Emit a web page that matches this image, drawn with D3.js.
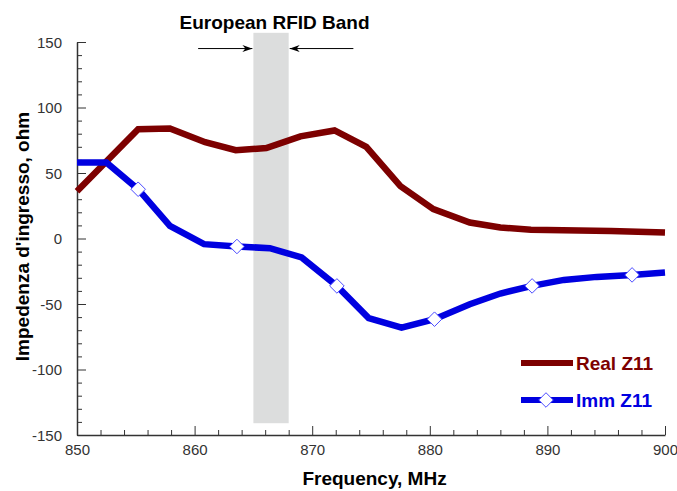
<!DOCTYPE html>
<html lang="en">
<head>
  <meta charset="UTF-8">
  <title>Impedenza d'ingresso</title>
  <script src="https://d3js.org/d3.v7.min.js"></script>
  <style>
    body {
      margin: 0;
      padding: 0;
      background: #fff;
      font-family: "Liberation Sans", Arial, sans-serif;
    }
    .tick text {
      font-size: 15px;
      fill: #333;
    }
    .bold {
      font-weight: bold;
      font-size: 19px;
    }
  </style>
</head>
<body>
  <svg id="chart"></svg>
  <script>
    // Real Z11 (MHz, ohm)
    const realFreq = [850, 855.2, 857.9, 860.9, 863.5, 866.1, 869, 871.9, 874.6, 877.5, 880.3, 883.4, 886, 888.6, 895.4, 900];
    const realVal = [36, 83.4, 84, 73.5, 67.4, 69, 78, 82.5, 70, 40, 22.4, 12.2, 8.4, 6.6, 5.8, 4.6];

    // Imm Z11 (MHz, ohm)
    const immFreq = [850, 852.5, 855.2, 857.9, 860.8, 863.6, 866.4, 869.1, 872.1, 874.8, 877.6, 880.4, 883.4, 886, 888.7, 891.4, 894.2, 897.2, 900];
    const immVal = [58, 58, 37.6, 9.6, -4.3, -6.1, -7.4, -14.5, -36.2, -60.8, -68, -61.6, -50.2, -42, -36.2, -31.6, -29.3, -27.8, -26];
    const immMarkers = [855.2, 863.6, 872.1, 880.4, 888.7, 897.2];

    // European RFID band
    const bandFreq = [865, 868];
    const bandVal = [157, -141];

    const xTicks = [850, 860, 870, 880, 890, 900];
    const yTicks = [-150, -100, -50, 0, 50, 100, 150];

    const width = 677;
    const height = 491;
    const margin = { top: 42, right: 12, bottom: 56, left: 77 };

    const svg = d3.select("#chart")
      .attr("width", width)
      .attr("height", height);

    const x = d3.scaleLinear()
      .domain([850, 900])
      .range([margin.left, width - margin.right]);

    const y = d3.scaleLinear()
      .domain([-150, 150])
      .range([height - margin.bottom, margin.top]);

    const red = "#7d0000";
    const blue = "#0000e0";

    // band
    svg.append("rect")
      .attr("x", x(bandFreq[0]))
      .attr("y", y(bandVal[0]))
      .attr("width", x(bandFreq[1]) - x(bandFreq[0]))
      .attr("height", y(bandVal[1]) - y(bandVal[0]))
      .attr("fill", "#dcdddd");

    // arrows pointing at the band
    const defs = svg.append("defs");
    defs.append("marker")
      .attr("id", "arrow")
      .attr("viewBox", "0 0 10 10")
      .attr("refX", 10)
      .attr("refY", 5)
      .attr("markerWidth", 10)
      .attr("markerHeight", 10)
      .attr("markerUnits", "userSpaceOnUse")
      .attr("orient", "auto")
      .append("path")
      .attr("d", "M0,1.5 L10,5 L0,8.5 L3,5 Z")
      .attr("fill", "#000");

    const arrowY = y(145);
    svg.append("line")
      .attr("x1", x(860.3)).attr("x2", x(bandFreq[0]) - 1)
      .attr("y1", arrowY).attr("y2", arrowY)
      .attr("stroke", "#000").attr("stroke-width", 1)
      .attr("marker-end", "url(#arrow)");
    svg.append("line")
      .attr("x1", x(873.5)).attr("x2", x(bandFreq[1]) + 1)
      .attr("y1", arrowY).attr("y2", arrowY)
      .attr("stroke", "#000").attr("stroke-width", 1)
      .attr("marker-end", "url(#arrow)");

    svg.append("text")
      .attr("class", "bold")
      .attr("x", x(866.8))
      .attr("y", 29)
      .attr("text-anchor", "middle")
      .text("European RFID Band");

    // axes
    const xAxis = d3.axisBottom(x)
      .tickValues(d3.range(850, 901, 2))
      .tickSize(0)
      .tickFormat(d => xTicks.includes(d) ? d : "");
    const gx = svg.append("g")
      .attr("transform", `translate(0,${height - margin.bottom})`)
      .call(xAxis);
    gx.select(".domain").attr("stroke", "#333").attr("stroke-width", 1.5);
    gx.selectAll(".tick line")
      .attr("y2", d => xTicks.includes(d) ? -9 : -5)
      .attr("stroke", "#333");
    gx.selectAll(".tick text").attr("dy", "1.1em");

    const yAxis = d3.axisLeft(y)
      .tickValues(d3.range(-150, 151, 10))
      .tickSize(0)
      .tickFormat(d => yTicks.includes(d) ? d : "");
    const gy = svg.append("g")
      .attr("transform", `translate(${margin.left},0)`)
      .call(yAxis);
    gy.select(".domain").attr("stroke", "#333").attr("stroke-width", 1.5);
    gy.selectAll(".tick line")
      .attr("x2", d => yTicks.includes(d) ? 9 : 5)
      .attr("stroke", "#333");
    gy.selectAll(".tick text").attr("x", -15).attr("dy", "0.36em");

    // series
    const line = d3.line()
      .x(d => x(d[0]))
      .y(d => y(d[1]));

    const realData = realFreq.map((f, i) => [f, realVal[i]]);
    const immData = immFreq.map((f, i) => [f, immVal[i]]);

    svg.append("path")
      .datum(realData)
      .attr("d", line)
      .attr("fill", "none")
      .attr("stroke", red)
      .attr("stroke-width", 6.5);

    svg.append("path")
      .datum(immData)
      .attr("d", line)
      .attr("fill", "none")
      .attr("stroke", blue)
      .attr("stroke-width", 6.5);

    const diamond = d3.symbol().type(d3.symbolDiamond2).size(135);

    svg.selectAll(".imm-marker")
      .data(immData.filter(d => immMarkers.includes(d[0])))
      .join("path")
      .attr("class", "imm-marker")
      .attr("transform", d => `translate(${x(d[0])},${y(d[1])})`)
      .attr("d", diamond)
      .attr("fill", "#fff")
      .attr("stroke", "#4b4bff")
      .attr("stroke-width", 1);

    // legend
    const legend = svg.append("g");
    const legendItems = [
      { label: "Real Z11", color: red, marker: false, y: 363 },
      { label: "Imm Z11", color: blue, marker: true, y: 400 }
    ];
    legendItems.forEach(item => {
      legend.append("line")
        .attr("x1", 521).attr("x2", 573)
        .attr("y1", item.y).attr("y2", item.y)
        .attr("stroke", item.color)
        .attr("stroke-width", 6);
      if (item.marker) {
        legend.append("path")
          .attr("transform", `translate(546,${item.y})`)
          .attr("d", diamond)
          .attr("fill", "#fff")
          .attr("stroke", "#4b4bff")
          .attr("stroke-width", 1);
      }
      legend.append("text")
        .attr("class", "bold")
        .attr("x", 576)
        .attr("y", item.y + 7)
        .attr("fill", item.color)
        .text(item.label);
    });

    // axis titles
    svg.append("text")
      .attr("class", "bold")
      .attr("x", x(875.3))
      .attr("y", 485)
      .attr("text-anchor", "middle")
      .text("Frequency, MHz");

    svg.append("text")
      .attr("class", "bold")
      .attr("transform", `translate(29,${y(0) - 2}) rotate(-90)`)
      .attr("text-anchor", "middle")
      .text("Impedenza d'ingresso, ohm");
  </script>
</body>
</html>
